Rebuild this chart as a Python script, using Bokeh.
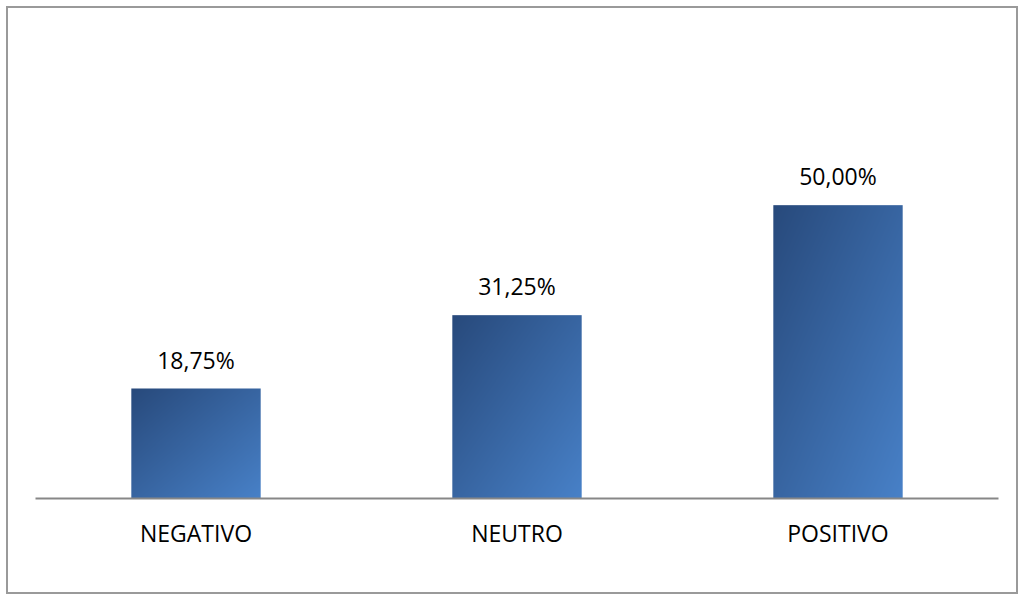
import numpy as np
from bokeh.plotting import figure
from bokeh.models import ColumnDataSource, Range1d, FixedTicker
from bokeh.embed import file_html
from bokeh.resources import INLINE
from bokeh.core.properties import value

categories = ["NEGATIVO", "NEUTRO", "POSITIVO"]
values = [18.75, 31.25, 50.00]
labels = ["18,75%", "31,25%", "50,00%"]

FONT = "Open Sans"
BAR_W = 0.403
DARK = np.array([40, 74, 124], dtype=float)
LIGHT = np.array([72, 129, 200], dtype=float)

xs = np.arange(len(categories)) + 0.5

p = figure(width=1012, height=588, output_backend="svg", toolbar_location=None,
           x_range=Range1d(0, len(categories)), y_range=Range1d(0, 60),
           min_border_left=27, min_border_right=22, min_border_top=138,
           min_border_bottom=98,
           styles={"border": "2px solid #9a9a9a", "margin-left": "6px",
                   "margin-top": "6px", "box-sizing": "border-box"})

p.outline_line_color = None
p.background_fill_color = "white"
p.border_fill_color = "white"
p.xgrid.visible = False
p.ygrid.visible = False
p.yaxis.visible = False


def gradient(h, w):
    yy, xx = np.mgrid[0:h, 0:w]
    yn = yy / max(h - 1, 1)   # 0 at bottom (row 0 is bottom in bokeh image)
    xn = xx / max(w - 1, 1)
    # t=0 at top-left (xn=0, yn=1), t=1 at bottom-right (xn=1, yn=0)
    t = (xn + (1 - yn)) / 2.0
    img = np.empty((h, w), dtype=np.uint32)
    view = img.view(dtype=np.uint8).reshape((h, w, 4))
    for c in range(3):
        view[:, :, c] = (DARK[c] + (LIGHT[c] - DARK[c]) * t).astype(np.uint8)
    view[:, :, 3] = 255
    return img


images = [gradient(int(round(v * 5.8)), 129) for v in values]
src = ColumnDataSource(dict(image=images, x=list(xs - BAR_W / 2), y=[0] * len(values),
                            dw=[BAR_W] * len(values), dh=values))
p.image_rgba(image="image", x="x", y="y", dw="dw", dh="dh", source=src)

lab = ColumnDataSource(dict(x=list(xs), y=values, text=labels))
p.text(x="x", y="y", text="text", source=lab, text_align="center",
       text_baseline="alphabetic", y_offset=-29, text_color="black",
       text_font=value(FONT), text_font_size="23px")

p.xaxis.ticker = FixedTicker(ticks=list(xs))
p.xaxis.major_label_overrides = {float(x): c for x, c in zip(xs, categories)}
p.xaxis.axis_line_color = "#878787"
p.xaxis.axis_line_width = 2
p.xaxis.major_tick_line_color = None
p.xaxis.minor_tick_line_color = None
p.xaxis.major_label_text_font = FONT
p.xaxis.major_label_text_font_size = "23px"
p.xaxis.major_label_text_color = "black"
p.xaxis.major_label_standoff = 12

open("out.html", "w").write(file_html(p, INLINE))
